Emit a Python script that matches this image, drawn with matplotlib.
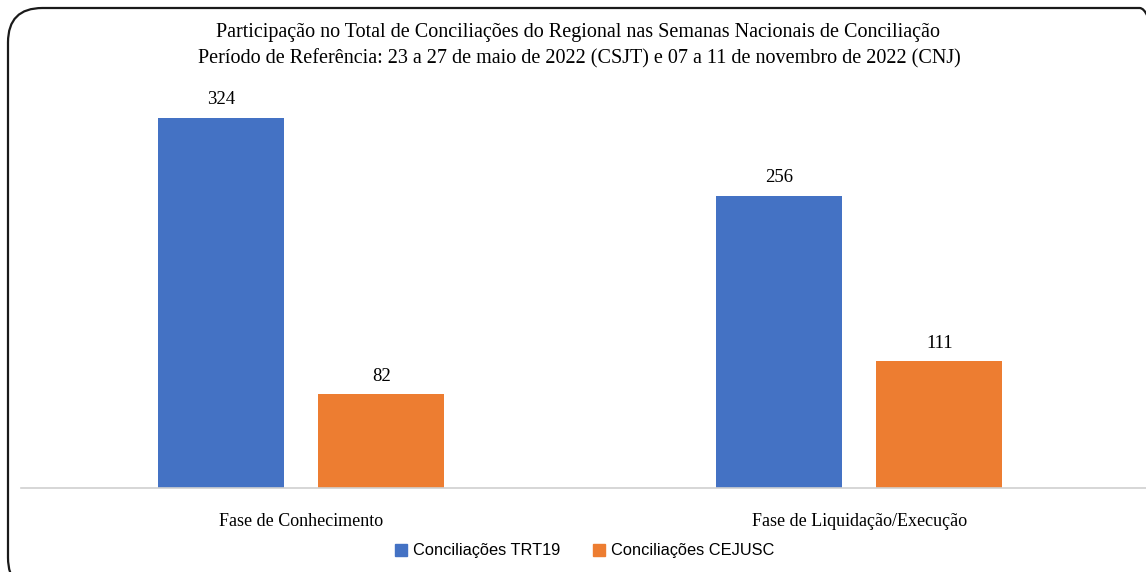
import matplotlib
matplotlib.use("Agg")
import matplotlib.pyplot as plt
from matplotlib.patches import FancyBboxPatch, Patch
import numpy as np

# data
categories = ["Fase de Conhecimento", "Fase de Liquidação/Execução"]
trt19 = [324, 256]
cejusc = [82, 111]
series_names = ["Conciliações TRT19", "Conciliações CEJUSC"]
title_lines = [
    "Participação no Total de Conciliações do Regional nas Semanas Nacionais de Conciliação",
    "Período de Referência: 23 a 27 de maio de 2022 (CSJT) e 07 a 11 de novembro de 2022 (CNJ)",
]

BLUE = "#4472C4"
ORANGE = "#ED7D31"
W, H = 1146, 572

fig = plt.figure(figsize=(W / 100, H / 100), dpi=100)
serif = ["Liberation Serif", "DejaVu Serif"]

# rounded frame, cut off on right and bottom like the source
frame = FancyBboxPatch((8 / W, -20 / H), (W + 20) / W, (H - 8 + 20) / H,
                       boxstyle="round,pad=0,rounding_size=0.03",
                       transform=fig.transFigure, fill=False,
                       edgecolor="#1a1a1a", linewidth=1.6, mutation_aspect=W / H)
fig.patches.append(frame)

# axes: baseline at y=488px, left 21px, extends to right edge
ylim_top = 350
px_per_unit = 370 / 324
ax_top = 488 - ylim_top * px_per_unit
ax = fig.add_axes([21 / W, (H - 488) / H, (W - 21) / W, (488 - ax_top) / H])
ax.set_xlim(-0.502, 1.514)
ax.set_ylim(0, ylim_top)

x = np.arange(len(categories))
bw = 0.2258
off = 0.1438
b1 = ax.bar(x - off, trt19, bw, color=BLUE)
b2 = ax.bar(x + off, cejusc, bw, color=ORANGE)

for bars, vals in ((b1, trt19), (b2, cejusc)):
    for r, v in zip(bars, vals):
        ax.annotate(str(v), (r.get_x() + r.get_width() / 2, v),
                    xytext=(0, 7), textcoords="offset points",
                    ha="center", va="bottom", fontsize=13.5, family=serif)

for s in ("top", "right", "left"):
    ax.spines[s].set_visible(False)
ax.spines["bottom"].set_color("#d0d0d0")
ax.spines["bottom"].set_linewidth(1.2)
ax.set_yticks([])
ax.set_xticks(x)
ax.set_xticklabels(categories, fontsize=13, family=serif)
ax.tick_params(axis="x", length=0, pad=18)
ax.patch.set_visible(False)

fig.text(578 / W, 1 - 32 / H, title_lines[0], ha="center", va="center",
         fontsize=14.5, family=serif)
fig.text(579 / W, 1 - 59 / H, title_lines[1], ha="center", va="center",
         fontsize=14.5, family=serif)

handles = [Patch(color=BLUE), Patch(color=ORANGE)]
fig.legend(handles, series_names, loc="center", bbox_to_anchor=(585 / W, 1 - 551 / H),
           ncol=2, frameon=False, handlelength=0.7, handleheight=0.7,
           handletextpad=0.4, columnspacing=2.0,
           prop={"family": ["Liberation Sans", "DejaVu Sans"], "size": 11.8})

fig.savefig("out.png", dpi=100)
